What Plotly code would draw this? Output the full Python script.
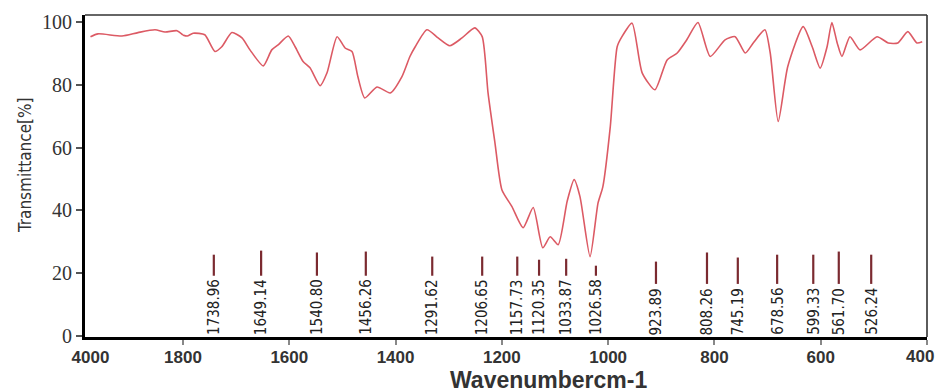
import numpy as np
import plotly.graph_objects as go

# ---- data ----
wavenumber = [4000, 3821, 3250, 2870, 2466, 2228, 1943, 1800, 1792, 1781, 1759, 1740, 1727, 1708,
              1689, 1674, 1649, 1633, 1621, 1602, 1589, 1574, 1561, 1542, 1529, 1510, 1495, 1482,
              1471, 1458, 1435, 1410, 1388, 1373, 1363, 1341, 1320, 1298, 1275, 1251, 1237, 1226,
              1213, 1200, 1181, 1160, 1141, 1123, 1109, 1094, 1077, 1064, 1053, 1034, 1019, 1010,
              996, 983, 974, 955, 936, 912, 889, 870, 852, 831, 808, 780, 761, 742, 727, 705, 695,
              680, 662, 633, 616, 601, 588, 579, 569, 560, 545, 526, 494, 473, 455, 436, 419, 409]
transmittance = [95.3, 96.2, 95.5, 96.6, 97.5, 96.8, 97.2, 95.8, 95.5, 96.4, 95.9, 90.6, 92.1, 96.6,
                 94.9, 91.1, 86.0, 91.1, 92.7, 95.5, 92.1, 87.4, 85.4, 79.7, 83.8, 95.3, 91.7, 90.6,
                 82.6, 75.8, 79.3, 77.4, 82.6, 89.0, 92.1, 97.5, 94.9, 92.4, 94.9, 98.1, 95.3, 77.4,
                 61.5, 46.6, 41.2, 34.5, 40.9, 28.1, 31.6, 29.1, 43.0, 49.8, 44.4, 25.3, 42.4, 47.5,
                 66.6, 92.1, 95.3, 99.6, 83.8, 78.4, 87.9, 90.1, 94.3, 99.8, 89.0, 94.3, 95.3, 90.1,
                 93.3, 97.5, 90.1, 68.3, 85.8, 98.5, 92.1, 85.3, 92.1, 99.8, 93.3, 89.0, 95.3, 91.1,
                 95.3, 93.3, 93.3, 96.9, 93.3, 93.7]

peak_labels = ["1738.96", "1649.14", "1540.80", "1456.26", "1291.62", "1206.65", "1157.73",
               "1120.35", "1033.87", "1026.58", "923.89", "808.26", "745.19", "678.56",
               "599.33", "561.70", "526.24"]
# where each peak label is drawn along the axis
peak_label_x = [1742, 1653, 1548, 1456, 1331, 1237, 1171, 1130, 1079, 1023, 910, 814, 756, 682,
                614, 566, 505]
peak_marker_top = [25.9, 27.2, 26.6, 26.9, 25.3, 25.3, 25.3, 24.3, 24.6, 22.4, 23.7, 26.6, 25.0,
                   25.9, 25.9, 26.9, 25.9]

x_ticks_left = [4000]
x_ticks_right = [1800, 1600, 1400, 1200, 1000, 800, 600, 400]
y_ticks = [0, 20, 40, 60, 80, 100]

# ---- figure ----
wn = np.array(wavenumber, dtype=float)
tr = np.array(transmittance, dtype=float)
left = wn >= 1800
right = wn <= 1800

curve_color = "#dc5a64"
narrow = "DejaVu Sans Condensed, Liberation Sans Narrow, Arial Narrow, sans-serif"
xtickfont = dict(family="Liberation Sans, Arial, sans-serif", size=17, color="#333", weight="bold")

fig = go.Figure()
fig.add_trace(go.Scatter(x=wn[left], y=tr[left], xaxis="x", yaxis="y", mode="lines",
                         line=dict(color=curve_color, width=1.6, shape="spline", smoothing=0.6),
                         hoverinfo="skip"))
fig.add_trace(go.Scatter(x=wn[right], y=tr[right], xaxis="x2", yaxis="y", mode="lines",
                         line=dict(color=curve_color, width=1.6, shape="spline", smoothing=0.6),
                         hoverinfo="skip"))

mx, my = [], []
for lab, px, top in zip(peak_labels, peak_label_x, peak_marker_top):
    bottom = 19.2 if len(lab) >= 7 else 16.6
    mx += [px, px, None]
    my += [bottom, top, None]
fig.add_trace(go.Scatter(x=mx, y=my, xaxis="x2", yaxis="y", mode="lines",
                         line=dict(color="#7b2a30", width=2.2), hoverinfo="skip"))

annotations = []
for lab, px in zip(peak_labels, peak_label_x):
    annotations.append(dict(x=px, y=0, xref="x2", yref="y", text=lab, textangle=-90,
                            showarrow=False, xanchor="center", yanchor="bottom", yshift=-1,
                            font=dict(family=narrow, size=15, color="#222")))
annotations.append(dict(x=-0.072, y=0.535, xref="paper", yref="paper", text="Transmittance[%]",
                        textangle=-90, showarrow=False, xanchor="center", yanchor="middle",
                        font=dict(family=narrow, size=17, color="#333")))
annotations.append(dict(x=0.55, y=-0.133, xref="paper", yref="paper", text="Wavenumbercm-1",
                        showarrow=False, xanchor="center", yanchor="middle",
                        font=dict(family="Liberation Sans, Arial, sans-serif", size=23,
                                  color="#333", weight="bold")))

# right-most tick label sits at the page edge: draw it right-aligned at its tick
right_ticktext = [str(v) for v in x_ticks_right]
edge_label = right_ticktext[-1]
right_ticktext[-1] = ""
annotations.append(dict(x=x_ticks_right[-1], y=0, xref="x2", yref="paper", text=edge_label,
                        showarrow=False, xanchor="right", yanchor="middle", xshift=9, yshift=-19,
                        font=xtickfont))

d1 = 98 / 842
fig.update_layout(
    width=939, height=392,
    margin=dict(l=85, r=12, t=15, b=55, autoexpand=False),
    plot_bgcolor="white", paper_bgcolor="white",
    showlegend=False,
    xaxis=dict(domain=[0, d1], range=[4130, 1800], tickvals=x_ticks_left,
               ticktext=[str(v) for v in x_ticks_left], ticks="", showline=True,
               linecolor="black", linewidth=2.5, showgrid=False, zeroline=False,
               tickfont=xtickfont, anchor="y", ticklabelstandoff=3, automargin=False),
    xaxis2=dict(domain=[d1, 1], range=[1800, 400], tickvals=x_ticks_right,
                ticktext=right_ticktext, ticks="outside", ticklen=5,
                tickcolor="#888", tickwidth=1.5, showline=True, linecolor="black", linewidth=2.5,
                showgrid=False, zeroline=False, tickfont=xtickfont, anchor="y",
                ticklabelstandoff=-2, automargin=False),
    yaxis=dict(range=[-0.3, 102.2], tickvals=y_ticks, ticks="outside", ticklen=6,
               tickcolor="#555", tickwidth=1.5, showline=True, linecolor="black", linewidth=3,
               showgrid=False, zeroline=False, automargin=False,
               tickfont=dict(family="Liberation Serif, Times New Roman, serif", size=20,
                             color="#333")),
    annotations=annotations,
    shapes=[
        dict(type="line", xref="paper", yref="paper", x0=0, x1=1, y0=1, y1=1,
             line=dict(color="#666", width=2)),
        dict(type="line", xref="paper", yref="paper", x0=1, x1=1, y0=0, y1=1,
             line=dict(color="#333", width=1.6)),
    ],
)

fig.write_html("out.html", config={"displayModeBar": False},
               post_script="document.body.style.margin='0';")
